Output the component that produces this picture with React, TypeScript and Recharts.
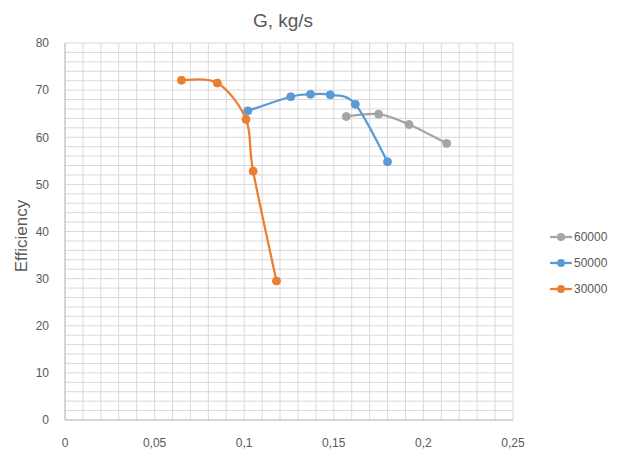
import { LineChart, Line, XAxis, YAxis, CartesianGrid, Legend } from 'recharts';

// G, kg/s against efficiency for three speed lines
const speed30000X = [0.065, 0.085, 0.101, 0.105, 0.118];
const speed30000Y = [72.1, 71.5, 63.8, 52.8, 29.5];

const speed50000X = [0.102, 0.126, 0.137, 0.148, 0.162, 0.18];
const speed50000Y = [65.6, 68.6, 69.1, 69.0, 67.0, 54.8];

const speed60000X = [0.157, 0.175, 0.192, 0.213];
const speed60000Y = [64.4, 64.9, 62.7, 58.7];

// minor grid every 0.01 / 2, labels only on the major steps
const xTicks = [
  0, 0.01, 0.02, 0.03, 0.04, 0.05, 0.06, 0.07, 0.08, 0.09, 0.1, 0.11, 0.12, 0.13,
  0.14, 0.15, 0.16, 0.17, 0.18, 0.19, 0.2, 0.21, 0.22, 0.23, 0.24, 0.25,
];
const xLabels = ['0', '0,05', '0,1', '0,15', '0,2', '0,25'];
const yTicks = [
  0, 2, 4, 6, 8, 10, 12, 14, 16, 18, 20, 22, 24, 26, 28, 30, 32, 34, 36, 38, 40,
  42, 44, 46, 48, 50, 52, 54, 56, 58, 60, 62, 64, 66, 68, 70, 72, 74, 76, 78, 80,
];

const toPoints = (xs: number[], ys: number[]) => xs.map((g, i) => ({ g, eff: ys[i] }));

const series = [
  { name: '60000', color: '#a5a5a5', data: toPoints(speed60000X, speed60000Y) },
  { name: '50000', color: '#5b9bd5', data: toPoints(speed50000X, speed50000Y) },
  { name: '30000', color: '#ed7d31', data: toPoints(speed30000X, speed30000Y) },
];

const FONT = '"Liberation Sans", Arial, sans-serif';
const TEXT = '#595959';

// spreadsheet-style smoothed line: Catmull-Rom segments as cubic beziers
const smoothCurve = (context: any) => {
  let pts: number[][] = [];
  return {
    areaStart() {},
    areaEnd() {},
    lineStart() {
      pts = [];
    },
    point(x: number, y: number) {
      pts.push([+x, +y]);
    },
    lineEnd() {
      if (!pts.length) return;
      context.moveTo(pts[0][0], pts[0][1]);
      for (let i = 0; i < pts.length - 1; i++) {
        const p0 = pts[Math.max(i - 1, 0)];
        const p1 = pts[i];
        const p2 = pts[i + 1];
        const p3 = pts[Math.min(i + 2, pts.length - 1)];
        context.bezierCurveTo(
          p1[0] + (p2[0] - p0[0]) / 6,
          p1[1] + (p2[1] - p0[1]) / 6,
          p2[0] - (p3[0] - p1[0]) / 6,
          p2[1] - (p3[1] - p1[1]) / 6,
          p2[0],
          p2[1],
        );
      }
    },
  };
};

const formatX = (v: number) => {
  const i = Math.round(v * 100);
  return i % 5 === 0 ? xLabels[i / 5] : '';
};
const formatY = (v: number) => (v % 10 === 0 ? String(v) : '');

const LegendList = () => (
  <div style={{ fontFamily: FONT, fontSize: 12, color: TEXT }}>
    {series.map((s) => (
      <div key={s.name} style={{ display: 'flex', alignItems: 'center', height: 26 }}>
        <svg width={22} height={10}>
          <line x1={0} y1={5} x2={22} y2={5} stroke={s.color} strokeWidth={2.25} />
          <circle cx={11} cy={5} r={4} fill={s.color} />
        </svg>
        <span style={{ marginLeft: 2 }}>{s.name}</span>
      </div>
    ))}
  </div>
);

export default function App() {
  return (
    <div style={{ position: 'absolute', left: 0, top: 0, background: '#fff' }}>
      <LineChart
        width={622}
        height={453}
        margin={{ top: 43, right: 109, bottom: 3, left: 0 }}
      >
        <text
          x={283}
          y={27}
          textAnchor="middle"
          fontFamily={FONT}
          fontSize={19}
          fill={TEXT}
        >
          G, kg/s
        </text>
        <text
          x={0}
          y={0}
          transform="translate(27 236) rotate(-90)"
          textAnchor="middle"
          fontFamily={FONT}
          fontSize={17}
          fill={TEXT}
        >
          Efficiency
        </text>
        <CartesianGrid stroke="#d9d9d9" strokeWidth={1} />
        <XAxis
          type="number"
          dataKey="g"
          height={30}
          domain={[0, 0.25]}
          ticks={xTicks}
          interval={0}
          tickFormatter={formatX}
          tickLine={false}
          axisLine={{ stroke: '#bfbfbf' }}
          tick={{ fill: TEXT, fontSize: 12, fontFamily: FONT }}
          tickMargin={12}
          allowDuplicatedCategory={false}
        />
        <YAxis
          type="number"
          dataKey="eff"
          width={65}
          domain={[0, 80]}
          ticks={yTicks}
          interval={0}
          tickFormatter={formatY}
          tickLine={false}
          axisLine={{ stroke: '#bfbfbf' }}
          tick={{ fill: TEXT, fontSize: 12, fontFamily: FONT }}
          tickMargin={10}
        />
        <Legend
          layout="vertical"
          align="center"
          verticalAlign="middle"
          wrapperStyle={{ left: 550, top: 224, width: 72 }}
          content={() => <LegendList />}
        />
        {series.map((s) => (
          <Line
            key={s.name}
            name={s.name}
            data={s.data}
            dataKey="eff"
            type={smoothCurve as any}
            stroke={s.color}
            strokeWidth={2.25}
            dot={{ r: 4, fill: s.color, stroke: s.color, strokeWidth: 1 }}
            isAnimationActive={false}
          />
        ))}
      </LineChart>
    </div>
  );
}
